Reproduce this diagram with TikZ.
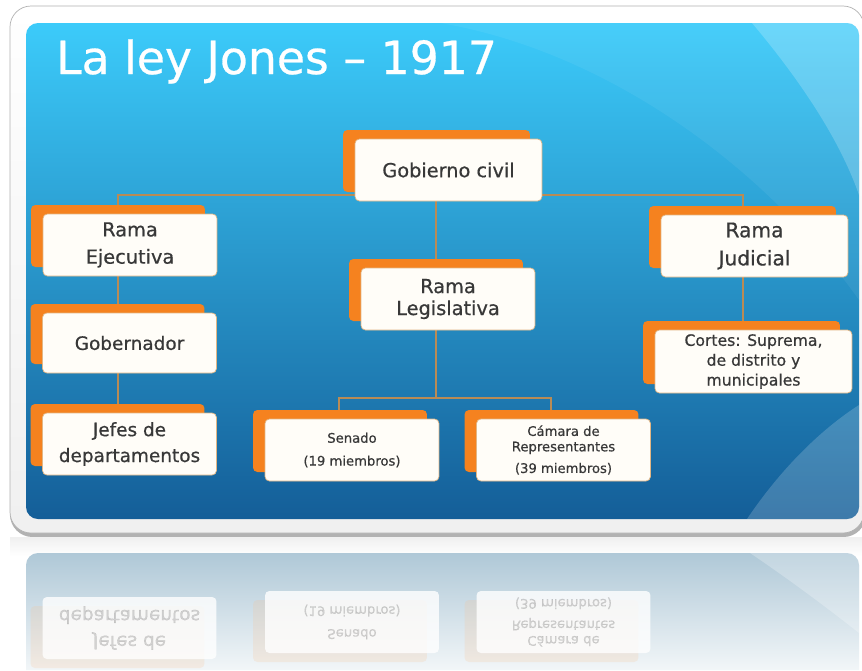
\documentclass[tikz,border=0pt]{standalone}
\usepackage{fontspec}
\setmainfont[FakeBold=0.6]{DejaVu Sans}
\usetikzlibrary{shadows,calc}
\definecolor{naranja}{HTML}{F5821F}
\definecolor{crema}{HTML}{FFFDF8}
\definecolor{borde}{HTML}{E2B684}
\definecolor{tinta}{HTML}{383838}
\definecolor{cafe}{HTML}{B98B55}
\definecolor{celeste}{HTML}{3CCBFA}
\definecolor{azulmedio}{HTML}{2196D2}
\definecolor{azulosc}{HTML}{145E98}
\definecolor{reflejoA}{HTML}{AFC8D7}
\definecolor{reflejoB}{HTML}{F2F6F8}
\pgfdeclarelayer{fondo}
\pgfdeclarelayer{lineas}
\pgfsetlayers{fondo,lineas,main}
\tikzset{
  cajabase/.style={fill=crema, draw=borde, rounded corners=2.5pt, align=center,
    text=tinta, inner sep=1pt, minimum width=3.48cm, minimum height=1.24cm,
    font=\fontsize{11}{15.5}\selectfont},
  caja/.style={cajabase, general shadow={fill=naranja, shadow xshift=-0.24cm, shadow yshift=0.18cm}},
  reflejo/.style={cajabase, draw=none, fill=white, fill opacity=0.8, text opacity=0.2,
    general shadow={fill=naranja!50, fill opacity=0.2, shadow xshift=-0.24cm, shadow yshift=-0.18cm}},
  chica/.style={font=\fontsize{7.5}{13}\selectfont},
  linea/.style={draw=cafe, line width=1pt},
}
\begin{document}
\begin{tikzpicture}[x=0.02cm, y=-0.02cm]
\useasboundingbox (0,0) rectangle (862,670);

% puntos de las lineas
\coordinate (busL) at (118,195);
\coordinate (busR) at (743,195);
\coordinate (tronco) at (436,195);
\coordinate (legisbus) at (436,398);
\coordinate (senbus) at (339,398);
\coordinate (cambus) at (551,398);

\begin{pgfonlayer}{fondo}
  \fill[white] (0,0) rectangle (862,670);
  % marco
  \fill[gray!60, rounded corners=0.45cm] (10,9) rectangle (866,537);
  \shade[top color=white, bottom color=gray!12, draw=gray!60, rounded corners=0.42cm] (10,6) rectangle (864,533);
  % panel azul
  \shade[top color=celeste, middle color=azulmedio, bottom color=azulosc, rounded corners=0.24cm] (26,23) rectangle (859,519);
  \begin{scope}
    \clip[rounded corners=0.24cm] (26,23) rectangle (859,519);
    \fill[white, opacity=0.06] (440,23) .. controls (600,50) and (760,160) .. (859,300) -- (859,23) -- cycle;
    \fill[white, opacity=0.2] (752,23) .. controls (800,80) and (840,140) .. (859,195) -- (859,23) -- cycle;
    \fill[white, opacity=0.18] (747,519) .. controls (780,470) and (820,430) .. (859,405) -- (859,519) -- cycle;
  \end{scope}
  % reflejo
  \shade[top color=gray!12, bottom color=white] (10,537) rectangle (864,556);
  \shade[top color=reflejoA, bottom color=reflejoB] (26,670) [rounded corners=0.24cm] -- (26,553) -- (859,553) [sharp corners] -- (859,670) -- cycle;
  \fill[white, opacity=0.25] (750,553) .. controls (790,580) and (830,610) .. (859,633) -- (859,553) -- cycle;
\end{pgfonlayer}

\node[anchor=base west, text=white, font=\fontsize{26}{30}\selectfont] (titulo) at (50,74) {La ley Jones – 1917};

\node[caja, minimum width=3.74cm] (civil) at (448.5,170) {Gobierno civil};
\node[caja] (ejecutiva) at (130,245) {Rama\\Ejecutiva};
\node[caja, minimum height=1.2cm, font=\fontsize{10.5}{15}\selectfont] (gobernador) at (129.5,343) {Gobernador};
\node[caja, font=\fontsize{10.5}{14.7}\selectfont] (jefes) at (129.5,444) {Jefes de\\departamentos};
\node[caja, font=\fontsize{11}{12.5}\selectfont] (legislativa) at (448,299) {Rama\\Legislativa};
\node[caja, chica] (senado) at (352,450) {Senado\\(19 miembros)};
\node[caja, font=\fontsize{7.5}{8.8}\selectfont] (camara) at (563.5,450) {Cámara de\\Representantes\\[3.5pt](39 miembros)};
\node[caja, minimum width=3.74cm, font=\fontsize{11.5}{16}\selectfont] (judicial) at (754.5,246) {Rama\\Judicial};
\node[caja, minimum width=3.94cm, minimum height=1.26cm, font=\fontsize{8.9}{11.3}\selectfont] (cortes) at (753.5,361.5) {Cortes: Suprema,\\de distrito y\\municipales};

\begin{pgfonlayer}{lineas}
  \draw[linea] (busL |- ejecutiva.north) -- (busL) -- (busR) -- (busR |- judicial.north);
  \draw[linea] (tronco) -- (tronco |- legislativa.north);
  \draw[linea] (busL |- ejecutiva.south) -- (busL |- gobernador.north);
  \draw[linea] (busL |- gobernador.south) -- (busL |- jefes.north);
  \draw[linea] (busR |- judicial.south) -- (busR |- cortes.north);
  \draw[linea] (legisbus |- legislativa.south) -- (legisbus);
  \draw[linea] (senbus |- senado.north) -- (senbus) -- (cambus) -- (cambus |- camara.north);
\end{pgfonlayer}

% reflejo de la fila de abajo
\begin{scope}[cm={1,0,0,-1,(0,1072)}, transform shape]
  \node[reflejo, font=\fontsize{10.5}{14.7}\selectfont] (rjefes) at (129.5,444) {Jefes de\\departamentos};
  \node[reflejo, chica] (rsenado) at (352,450) {Senado\\(19 miembros)};
  \node[reflejo, font=\fontsize{7.5}{8.8}\selectfont] (rcamara) at (563.5,450) {Cámara de\\Representantes\\[3.5pt](39 miembros)};
\end{scope}
\end{tikzpicture}
\end{document}
